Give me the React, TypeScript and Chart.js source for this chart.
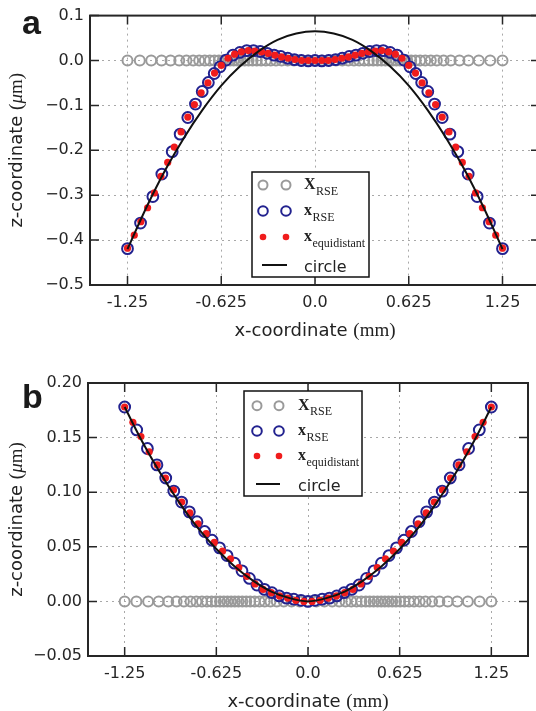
import React, { useEffect, useRef } from 'react';
import { Chart, registerables } from 'chart.js';
Chart.register(...registerables);

// ---------- shared axis data ----------
const xTickValues = [-1.25, -0.625, 0, 0.625, 1.25];
const xTickLabels = ['-1.25', '-0.625', '0.0', '0.625', '1.25'];
const xMin = -1.5;
const xMax = 1.5;

const legendLabels = [
  { main: 'X', sub: 'RSE' },
  { main: 'x', sub: 'RSE' },
  { main: 'x', sub: 'equidistant' },
  { main: 'circle', sub: '' },
];

// ---------- panel a ----------
const aYMin = -0.5;
const aYMax = 0.1;
const aYStep = 0.1;

const aGrayX = [-1.250, -1.168, -1.092, -1.023, -0.963, -0.905, -0.857, -0.812, -0.772, -0.735, -0.701, -0.670, -0.641, -0.615, -0.590, -0.566, -0.542, -0.518, -0.494, -0.469, -0.443, -0.416, -0.388, -0.359, -0.328, -0.295, -0.260, -0.222, -0.182, -0.140, -0.095, -0.048, 0.000, 0.048, 0.095, 0.140, 0.182, 0.222, 0.260, 0.295, 0.328, 0.359, 0.388, 0.416, 0.443, 0.469, 0.494, 0.518, 0.542, 0.566, 0.590, 0.615, 0.641, 0.670, 0.701, 0.735, 0.772, 0.812, 0.857, 0.905, 0.963, 1.023, 1.092, 1.168, 1.250];
const aGrayZ = 0;

const aBlueX = [-1.250, -1.163, -1.081, -1.021, -0.952, -0.899, -0.848, -0.797, -0.752, -0.711, -0.672, -0.633, -0.593, -0.547, -0.501, -0.455, -0.410, -0.365, -0.319, -0.273, -0.228, -0.182, -0.137, -0.091, -0.045, 0.000, 0.045, 0.091, 0.137, 0.182, 0.228, 0.273, 0.319, 0.365, 0.410, 0.455, 0.501, 0.547, 0.593, 0.633, 0.672, 0.711, 0.752, 0.797, 0.848, 0.899, 0.952, 1.021, 1.081, 1.163, 1.250];
const aBlueZ = [-0.419, -0.362, -0.303, -0.253, -0.203, -0.164, -0.127, -0.097, -0.069, -0.049, -0.029, -0.014, 0.001, 0.012, 0.018, 0.022, 0.022, 0.020, 0.016, 0.012, 0.009, 0.005, 0.002, 0.000, -0.001, 0.000, -0.001, 0.000, 0.002, 0.005, 0.009, 0.012, 0.016, 0.020, 0.022, 0.022, 0.018, 0.012, 0.001, -0.014, -0.029, -0.049, -0.069, -0.097, -0.127, -0.164, -0.203, -0.253, -0.303, -0.362, -0.419];

const aRedX = [-1.250, -1.205, -1.161, -1.116, -1.071, -1.027, -0.982, -0.938, -0.893, -0.848, -0.804, -0.759, -0.714, -0.670, -0.625, -0.580, -0.536, -0.491, -0.446, -0.402, -0.357, -0.313, -0.268, -0.223, -0.179, -0.134, -0.089, -0.045, 0.000, 0.045, 0.089, 0.134, 0.179, 0.223, 0.268, 0.313, 0.357, 0.402, 0.446, 0.491, 0.536, 0.580, 0.625, 0.670, 0.714, 0.759, 0.804, 0.848, 0.893, 0.938, 0.982, 1.027, 1.071, 1.116, 1.161, 1.205, 1.250];
const aRedZ = [-0.418, -0.389, -0.359, -0.328, -0.295, -0.258, -0.227, -0.193, -0.159, -0.126, -0.098, -0.072, -0.050, -0.028, -0.011, 0.005, 0.014, 0.019, 0.022, 0.021, 0.019, 0.016, 0.012, 0.008, 0.005, 0.002, 0.000, 0.000, 0.000, 0.000, 0.000, 0.002, 0.005, 0.008, 0.012, 0.016, 0.019, 0.021, 0.022, 0.019, 0.014, 0.005, -0.011, -0.028, -0.050, -0.072, -0.098, -0.126, -0.159, -0.193, -0.227, -0.258, -0.295, -0.328, -0.359, -0.389, -0.418];

const aCircleX = [-1.250, -1.125, -1.000, -0.875, -0.750, -0.625, -0.500, -0.375, -0.250, -0.125, 0.000, 0.125, 0.250, 0.375, 0.500, 0.625, 0.750, 0.875, 1.000, 1.125, 1.250];
const aCircleZ = [-0.420, -0.328, -0.245, -0.173, -0.110, -0.056, -0.013, 0.021, 0.046, 0.060, 0.065, 0.060, 0.046, 0.021, -0.013, -0.056, -0.110, -0.173, -0.245, -0.328, -0.420];

// ---------- panel b ----------
const bYMin = -0.05;
const bYMax = 0.2;
const bYStep = 0.05;

const bGrayX = [-1.250, -1.170, -1.090, -1.018, -0.953, -0.896, -0.846, -0.801, -0.761, -0.723, -0.689, -0.657, -0.628, -0.600, -0.574, -0.549, -0.524, -0.499, -0.474, -0.448, -0.421, -0.394, -0.364, -0.331, -0.295, -0.256, -0.213, -0.165, -0.112, -0.057, 0.000, 0.057, 0.112, 0.165, 0.213, 0.256, 0.295, 0.331, 0.364, 0.394, 0.421, 0.448, 0.474, 0.499, 0.524, 0.549, 0.574, 0.600, 0.628, 0.657, 0.689, 0.723, 0.761, 0.801, 0.846, 0.896, 0.953, 1.018, 1.090, 1.170, 1.250];
const bGrayZ = 0;

const bBlueX = [-1.250, -1.168, -1.095, -1.030, -0.970, -0.915, -0.862, -0.809, -0.757, -0.705, -0.654, -0.603, -0.552, -0.501, -0.450, -0.399, -0.348, -0.297, -0.246, -0.196, -0.146, -0.097, -0.048, 0.000, 0.048, 0.097, 0.146, 0.196, 0.246, 0.297, 0.348, 0.399, 0.450, 0.501, 0.552, 0.603, 0.654, 0.705, 0.757, 0.809, 0.862, 0.915, 0.970, 1.030, 1.095, 1.168, 1.250];
const bBlueZ = [0.178, 0.157, 0.140, 0.125, 0.113, 0.101, 0.091, 0.082, 0.073, 0.064, 0.056, 0.049, 0.042, 0.035, 0.028, 0.021, 0.015, 0.011, 0.008, 0.005, 0.003, 0.002, 0.001, 0.000, 0.001, 0.002, 0.003, 0.005, 0.008, 0.011, 0.015, 0.021, 0.028, 0.035, 0.042, 0.049, 0.056, 0.064, 0.073, 0.082, 0.091, 0.101, 0.113, 0.125, 0.140, 0.157, 0.178];

const bRedX = [-1.250, -1.194, -1.139, -1.083, -1.028, -0.972, -0.917, -0.861, -0.806, -0.750, -0.694, -0.639, -0.583, -0.528, -0.472, -0.417, -0.361, -0.306, -0.250, -0.194, -0.139, -0.083, -0.028, 0.028, 0.083, 0.139, 0.194, 0.250, 0.306, 0.361, 0.417, 0.472, 0.528, 0.583, 0.639, 0.694, 0.750, 0.806, 0.861, 0.917, 0.972, 1.028, 1.083, 1.139, 1.194, 1.250];
const bRedZ = [0.178, 0.164, 0.151, 0.137, 0.125, 0.113, 0.102, 0.091, 0.081, 0.071, 0.062, 0.054, 0.046, 0.039, 0.031, 0.023, 0.016, 0.011, 0.008, 0.005, 0.003, 0.001, 0.000, 0.000, 0.001, 0.003, 0.005, 0.008, 0.011, 0.016, 0.023, 0.031, 0.039, 0.046, 0.054, 0.062, 0.071, 0.081, 0.091, 0.102, 0.113, 0.125, 0.137, 0.151, 0.164, 0.178];

const bCircleX = [-1.250, -1.125, -1.000, -0.875, -0.750, -0.625, -0.500, -0.375, -0.250, -0.125, 0.000, 0.125, 0.250, 0.375, 0.500, 0.625, 0.750, 0.875, 1.000, 1.125, 1.250];
const bCircleZ = [0.178, 0.145, 0.116, 0.090, 0.067, 0.048, 0.032, 0.019, 0.009, 0.003, 0.000, 0.003, 0.009, 0.019, 0.032, 0.048, 0.067, 0.090, 0.116, 0.145, 0.178];

// ---------- styles ----------
const GRAY = '#9a9a9a';
const BLUE = '#22228f';
const RED = '#f01c1c';
const BLACK = '#111111';
const AXIS = '#262626';
const SANS = '"DejaVu Sans"';
const SERIF = '"Liberation Serif"';

function pts(xs: number[], zs: number[] | number) {
  return xs.map((x, i) => ({ x, y: Array.isArray(zs) ? zs[i] : zs }));
}

type LegendLayout = { left: number; top: number; width: number; height: number; m1: number; m2: number; tx: number; rows: number[] };
type Panel = {
  letter: string; letterY: number;
  width: number; height: number;
  pad: { left: number; top: number; right: number; bottom: number };
  yWidth: number; xHeight: number;
  yMin: number; yMax: number; yStep: number; yDecimals: number;
  grayX: number[]; grayZ: number;
  blueX: number[]; blueZ: number[];
  redX: number[]; redZ: number[];
  circleX: number[]; circleZ: number[];
  legend: LegendLayout;
};

function drawMarker(ctx: CanvasRenderingContext2D, kind: number, x: number, y: number) {
  ctx.beginPath();
  if (kind === 0) {
    ctx.arc(x, y, 4.5, 0, Math.PI * 2);
    ctx.strokeStyle = GRAY; ctx.lineWidth = 2; ctx.stroke();
  } else if (kind === 1) {
    ctx.arc(x, y, 4.8, 0, Math.PI * 2);
    ctx.strokeStyle = BLUE; ctx.lineWidth = 2; ctx.stroke();
  } else {
    ctx.arc(x, y, 3.3, 0, Math.PI * 2);
    ctx.fillStyle = RED; ctx.fill();
  }
}

function drawLegend(ctx: CanvasRenderingContext2D, L: LegendLayout) {
  ctx.save();
  ctx.fillStyle = '#ffffff';
  ctx.fillRect(L.left, L.top, L.width, L.height);
  ctx.strokeStyle = BLACK; ctx.lineWidth = 1.5;
  ctx.strokeRect(L.left, L.top, L.width, L.height);
  legendLabels.forEach((lab, i) => {
    const y = L.rows[i];
    if (i === 3) {
      ctx.beginPath(); ctx.moveTo(L.m1 - 1, y); ctx.lineTo(L.m2 + 1, y);
      ctx.strokeStyle = BLACK; ctx.lineWidth = 2; ctx.stroke();
      ctx.fillStyle = '#222'; ctx.font = `16px ${SANS}`; ctx.textAlign = 'left'; ctx.textBaseline = 'alphabetic';
      ctx.fillText(lab.main, L.tx, y + 6.5);
    } else {
      drawMarker(ctx, i, L.m1, y);
      drawMarker(ctx, i, L.m2, y);
      ctx.fillStyle = '#222'; ctx.textAlign = 'left'; ctx.textBaseline = 'alphabetic';
      ctx.font = `bold 16px ${SERIF}`;
      ctx.fillText(lab.main, L.tx, y + 4);
      const w = ctx.measureText(lab.main).width;
      ctx.font = `12px ${SERIF}`;
      ctx.fillText(lab.sub, L.tx + w + 0.5, y + 9.5);
    }
  });
  ctx.restore();
}

function makePlugin(p: Panel) {
  return {
    id: 'decor' + p.letter,
    afterDatasetsDraw(chart: any) {
      const { ctx, chartArea: ca, scales } = chart;
      const xs = scales.x; const ys = scales.y;
      ctx.save();
      ctx.strokeStyle = AXIS; ctx.lineWidth = 1.5;
      const TL = 9;
      ctx.beginPath();
      xs.ticks.forEach((t: any) => {
        const px = xs.getPixelForValue(t.value);
        ctx.moveTo(px, ca.bottom); ctx.lineTo(px, ca.bottom - TL);
        ctx.moveTo(px, ca.top); ctx.lineTo(px, ca.top + TL);
      });
      ys.ticks.forEach((t: any) => {
        const py = ys.getPixelForValue(t.value);
        ctx.moveTo(ca.left, py); ctx.lineTo(ca.left + TL, py);
        ctx.moveTo(ca.right, py); ctx.lineTo(ca.right - TL, py);
      });
      ctx.stroke();
      ctx.lineWidth = 2;
      ctx.strokeRect(ca.left, ca.top, ca.right - ca.left, ca.bottom - ca.top);
      ctx.restore();
    },
    afterDraw(chart: any) {
      const { ctx, chartArea: ca } = chart;
      ctx.save();
      ctx.fillStyle = '#222';
      // x title
      const xt1 = 'x-coordinate ';
      const xt2 = '(mm)';
      ctx.font = `18px ${SANS}`;
      const w1 = ctx.measureText(xt1).width;
      ctx.font = `19px ${SERIF}`;
      const w2 = ctx.measureText(xt2).width;
      const cx = (ca.left + ca.right) / 2;
      const sx = cx - (w1 + w2) / 2;
      const by = ca.bottom + 51;
      ctx.textAlign = 'left'; ctx.textBaseline = 'alphabetic';
      ctx.font = `18px ${SANS}`; ctx.fillText(xt1, sx, by);
      ctx.font = `19px ${SERIF}`; ctx.fillText(xt2, sx + w1, by);
      // y title
      const parts = [
        { t: 'z-coordinate ', f: `18px ${SANS}` },
        { t: '(', f: `19px ${SERIF}` },
        { t: '\u03bc', f: `italic 19px ${SERIF}` },
        { t: 'm)', f: `19px ${SERIF}` },
      ];
      let total = 0;
      const ws = parts.map((pt) => { ctx.font = pt.f; const w = ctx.measureText(pt.t).width; total += w; return w; });
      ctx.translate(17, (ca.top + ca.bottom) / 2);
      ctx.rotate(-Math.PI / 2);
      ctx.textBaseline = 'middle';
      let ox = -total / 2;
      parts.forEach((pt, i) => { ctx.font = pt.f; ctx.fillText(pt.t, ox, 0); ox += ws[i]; });
      ctx.setTransform(1, 0, 0, 1, 0, 0);
      // panel letter
      ctx.fillStyle = '#1a1a1a';
      ctx.font = `bold 34px "Liberation Sans"`;
      ctx.textBaseline = 'alphabetic'; ctx.textAlign = 'left';
      ctx.fillText(p.letter, 22, p.letterY);
      ctx.restore();
      drawLegend(ctx, p.legend);
    },
  };
}

function makeConfig(p: Panel): any {
  const fmt = (v: number) => {
    if (Math.abs(v) < 1e-9) return (0).toFixed(p.yDecimals);
    const s = v.toFixed(p.yDecimals);
    return s.replace('-', '\u2212');
  };
  return {
    type: 'scatter',
    data: {
      datasets: [
        { label: 'X_RSE', data: pts(p.grayX, p.grayZ), order: 4, pointRadius: 5, pointBorderWidth: 2, pointBorderColor: GRAY, pointBackgroundColor: 'rgba(0,0,0,0)', showLine: false },
        { label: 'x_RSE', data: pts(p.blueX, p.blueZ), order: 3, pointRadius: 5.4, pointBorderWidth: 2, pointBorderColor: BLUE, pointBackgroundColor: 'rgba(0,0,0,0)', showLine: false },
        { label: 'x_equidistant', data: pts(p.redX, p.redZ), order: 2, pointRadius: 3.6, pointBorderWidth: 0, pointBackgroundColor: RED, pointBorderColor: RED, showLine: false },
        { label: 'circle', data: pts(p.circleX, p.circleZ), order: 1, pointRadius: 0, showLine: true, borderColor: BLACK, borderWidth: 2, cubicInterpolationMode: 'monotone', fill: false },
      ],
    },
    options: {
      animation: false,
      responsive: false,
      devicePixelRatio: 1,
      events: [],
      layout: { padding: p.pad, autoPadding: false },
      plugins: { legend: { display: false }, tooltip: { enabled: false } },
      scales: {
        x: {
          type: 'linear', min: xMin, max: xMax,
          afterBuildTicks: (scale: any) => { scale.ticks = xTickValues.map((v) => ({ value: v })); },
          afterFit: (scale: any) => { scale.height = p.xHeight; },
          ticks: { callback: (_v: any, i: number) => xTickLabels[i], font: { family: 'DejaVu Sans', size: 16 }, color: AXIS, padding: 8, maxRotation: 0, autoSkip: false },
          grid: { color: '#a8a8a8', lineWidth: 1, drawTicks: false },
          border: { display: false, dash: [2, 4] },
        },
        y: {
          type: 'linear', min: p.yMin, max: p.yMax,
          afterFit: (scale: any) => { scale.width = p.yWidth; },
          ticks: { stepSize: p.yStep, callback: (v: any) => fmt(Number(v)), font: { family: 'DejaVu Sans', size: 16 }, color: AXIS, padding: 6 },
          grid: { color: '#a8a8a8', lineWidth: 1, drawTicks: false },
          border: { display: false, dash: [2, 4] },
        },
      },
    },
    plugins: [makePlugin(p)],
  };
}

const panelA: Panel = {
  letter: 'a', letterY: 34,
  width: 560, height: 345,
  pad: { left: 0, top: 13, right: 20, bottom: 0 },
  yWidth: 90, xHeight: 60,
  yMin: aYMin, yMax: aYMax, yStep: aYStep, yDecimals: 1,
  grayX: aGrayX, grayZ: aGrayZ, blueX: aBlueX, blueZ: aBlueZ, redX: aRedX, redZ: aRedZ, circleX: aCircleX, circleZ: aCircleZ,
  legend: { left: 252, top: 172, width: 117, height: 105, m1: 263, m2: 286, tx: 304, rows: [185, 211, 237, 265] },
};

const panelB: Panel = {
  letter: 'b', letterY: 63,
  width: 545, height: 366,
  pad: { left: 0, top: 38, right: 17, bottom: 0 },
  yWidth: 88, xHeight: 55,
  yMin: bYMin, yMax: bYMax, yStep: bYStep, yDecimals: 2,
  grayX: bGrayX, grayZ: bGrayZ, blueX: bBlueX, blueZ: bBlueZ, redX: bRedX, redZ: bRedZ, circleX: bCircleX, circleZ: bCircleZ,
  legend: { left: 244, top: 46, width: 118, height: 105, m1: 257, m2: 279, tx: 298, rows: [60.7, 86, 111, 139] },
};

function PanelChart({ p, top }: { p: Panel; top: number }) {
  const ref = useRef<HTMLCanvasElement | null>(null);
  useEffect(() => {
    if (!ref.current) return;
    const chart = new Chart(ref.current, makeConfig(p));
    return () => chart.destroy();
  }, [p]);
  return (
    <canvas
      ref={ref}
      width={p.width}
      height={p.height}
      style={{ position: 'absolute', left: 0, top, width: p.width, height: p.height }}
    />
  );
}

export default function App() {
  return (
    <div style={{ position: 'absolute', left: 0, top: 0, width: 536, height: 711, overflow: 'hidden', background: '#ffffff' }}>
      <PanelChart p={panelA} top={0} />
      <PanelChart p={panelB} top={345} />
    </div>
  );
}
